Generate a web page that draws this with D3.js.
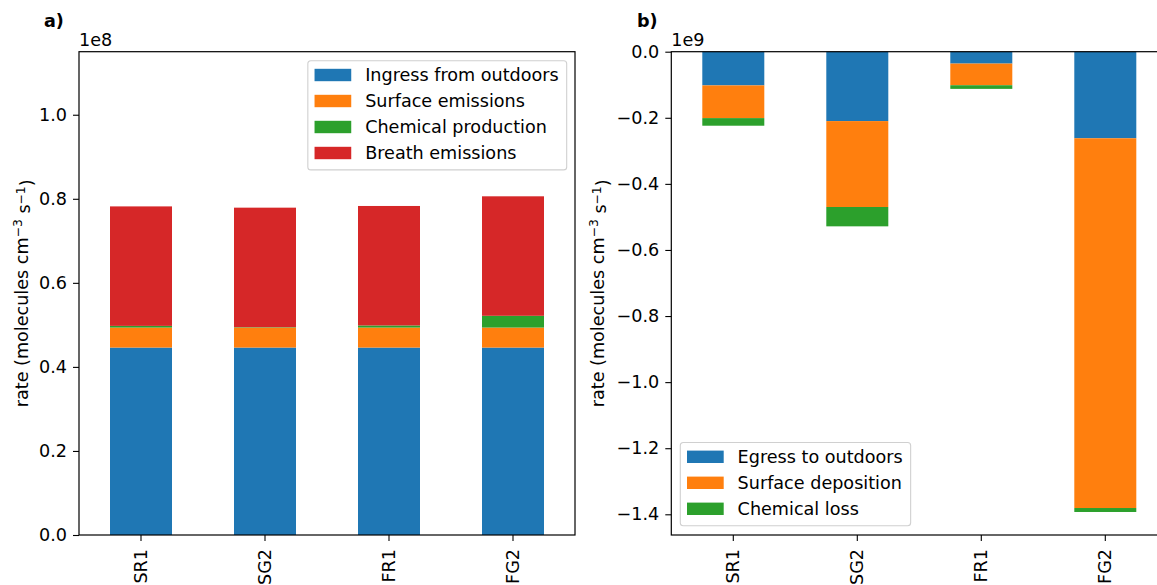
<!DOCTYPE html>
<html>
<head>
<meta charset="utf-8">
<script src="https://cdn.jsdelivr.net/npm/d3@7"></script>
<style>
  body { margin: 0; background: #fff; }
  svg text { font-family: "DejaVu Sans", "Liberation Sans", sans-serif; fill: #000; }
</style>
</head>
<body>
<svg id="chart" width="1157" height="585"></svg>
<script>
// Scenarios (x categories)
const categories = ["SR1", "SG2", "FR1", "FG2"];

// Sources (molecules cm^-3 s^-1)
const ingressFromOutdoors = [4.46e7, 4.46e7, 4.46e7, 4.46e7];
const surfaceEmissions    = [4.76e6, 4.76e6, 4.76e6, 4.76e6];
const chemicalProduction  = [4.0e5, 1.0e5, 5.0e5, 2.8e6];
const breathEmissions     = [2.843e7, 2.843e7, 2.843e7, 2.843e7];

// Sinks (molecules cm^-3 s^-1, negative)
const egressToOutdoors  = [-1.02e8, -2.10e8, -3.6e7, -2.62e8];
const surfaceDeposition = [-9.9e7, -2.60e8, -6.55e7, -1.119e9];
const chemicalLoss      = [-2.3e7, -5.85e7, -1.1e7, -1.2e7];

// Series names and tick values
const sourceNames = ["Ingress from outdoors", "Surface emissions", "Chemical production", "Breath emissions"];
const sinkNames   = ["Egress to outdoors", "Surface deposition", "Chemical loss"];
const sourceTicks = [0, 0.2e8, 0.4e8, 0.6e8, 0.8e8, 1.0e8];
const sinkTicks   = [0, -0.2e9, -0.4e9, -0.6e9, -0.8e9, -1.0e9, -1.2e9, -1.4e9];

const palette = ["#1f77b4", "#ff7f0e", "#2ca02c", "#d62728"];
const FONT = 17.6;
const svg = d3.select("#chart");

function drawPanel(cfg) {
  const { x0, x1, y0, y1, names, series, domain, ticks, scale, expLabel, letter, letterX, ylabelX, legendAt } = cfg;

  const rows = categories.map((c, i) => {
    const r = { cat: c };
    names.forEach((n, k) => r[n] = series[k][i]);
    return r;
  });
  const stacked = d3.stack().keys(names).offset(d3.stackOffsetDiverging)(rows);

  const x = d3.scaleBand().domain(categories).range([x0, x1]).paddingInner(0.5).paddingOuter(0.25);
  const y = d3.scaleLinear().domain(domain).range([y1, y0]);

  const g = svg.append("g");

  // stacked bars
  g.selectAll("g.layer").data(stacked).join("g")
    .attr("fill", (d, i) => palette[i])
    .selectAll("rect").data(d => d).join("rect")
    .attr("x", d => x(d.data.cat))
    .attr("width", x.bandwidth())
    .attr("y", d => y(Math.max(d[0], d[1])))
    .attr("height", d => Math.abs(y(d[0]) - y(d[1])));

  // y axis
  const fmt = v => {
    const s = (v / scale).toFixed(1);
    return s.replace("-", "\u2212");
  };
  const ya = g.append("g").attr("transform", `translate(${x0},0)`)
    .call(d3.axisLeft(y).tickValues(ticks).tickSize(6).tickPadding(6).tickFormat(fmt));
  ya.select(".domain").remove();
  ya.selectAll(".tick line").attr("stroke", "#000").attr("stroke-width", 1.1);
  ya.selectAll(".tick text").style("font-size", FONT + "px").attr("font-family", null);

  // x axis
  const xa = g.append("g").attr("transform", `translate(0,${y1})`)
    .call(d3.axisBottom(x).tickSize(6).tickPadding(6));
  xa.select(".domain").remove();
  xa.selectAll(".tick line").attr("stroke", "#000").attr("stroke-width", 1.1);
  xa.selectAll(".tick text")
    .style("font-size", FONT + "px")
    .attr("font-family", null)
    .attr("transform", "rotate(-90)")
    .attr("x", -14).attr("y", 0).attr("dy", "0.35em")
    .attr("text-anchor", "end");

  // spines
  g.append("rect")
    .attr("x", x0).attr("y", y0).attr("width", x1 - x0).attr("height", y1 - y0)
    .attr("fill", "none").attr("stroke", "#000").attr("stroke-width", 1.2);

  // offset label (exponent)
  g.append("text").attr("x", x0).attr("y", y0 - 5.5)
    .style("font-size", FONT + "px").text(expLabel);

  // panel letter
  g.append("text").attr("x", letterX).attr("y", 27)
    .style("font-size", FONT + "px").style("font-weight", "bold").text(letter);

  // y label with superscripts
  const yl = g.append("text")
    .attr("transform", `translate(${ylabelX},${(y0 + y1) / 2}) rotate(-90)`)
    .attr("text-anchor", "middle")
    .style("font-size", FONT + "px");
  yl.append("tspan").text("rate (molecules cm");
  yl.append("tspan").attr("dy", "-0.45em").style("font-size", (FONT * 0.7) + "px").text("\u22123");
  yl.append("tspan").attr("dy", "0.45em").text(" s");
  yl.append("tspan").attr("dy", "-0.45em").style("font-size", (FONT * 0.7) + "px").text("\u22121");
  yl.append("tspan").attr("dy", "0.45em").text(")");

  // legend
  const rowGap = 26, padTop = 14.3, padBottom = 16.9;
  const lh = padTop + (names.length - 1) * rowGap + padBottom;
  const lg = g.append("g");
  const box = lg.append("rect")
    .attr("rx", 3).attr("ry", 3)
    .attr("fill", "#fff").attr("fill-opacity", 0.8)
    .attr("stroke", "#d0d0d0").attr("stroke-width", 1.1);
  const items = lg.selectAll("g.item").data(names).join("g")
    .attr("transform", (d, i) => `translate(0,${padTop + i * rowGap})`);
  items.append("rect").attr("x", 6.7).attr("y", -6.2).attr("width", 36.7).attr("height", 12.4)
    .attr("fill", (d, i) => palette[i]);
  const labels = items.append("text").attr("x", 57.3).attr("dy", "0.36em")
    .style("font-size", FONT + "px").text(d => d);
  let tw = 0;
  labels.each(function () { tw = Math.max(tw, this.getComputedTextLength()); });
  const lw = 57.3 + tw + 8;
  box.attr("width", lw).attr("height", lh);
  let lx, ly;
  if (legendAt === "upper right") { lx = x1 - 8.3 - lw; ly = y0 + 9; }
  else { lx = x0 + 9; ly = y1 - 9.3 - lh; }
  lg.attr("transform", `translate(${lx},${ly})`);
}

// a) production terms
drawPanel({
  x0: 79, x1: 575, y0: 51.7, y1: 535,
  names: sourceNames,
  series: [ingressFromOutdoors, surfaceEmissions, chemicalProduction, breathEmissions],
  domain: [0, 1.15e8], ticks: sourceTicks, scale: 1e8,
  expLabel: "1e8", letter: "a)", letterX: 44, ylabelX: 28,
  legendAt: "upper right"
});

// b) loss terms: bottom gets a 5% margin below the deepest stack, top pinned at 0
const sinkTotals = categories.map((c, i) => egressToOutdoors[i] + surfaceDeposition[i] + chemicalLoss[i]);
const sinkMin = d3.min(sinkTotals);
drawPanel({
  x0: 671.3, x1: 1167.3, y0: 51.7, y1: 535,
  names: sinkNames,
  series: [egressToOutdoors, surfaceDeposition, chemicalLoss],
  domain: [sinkMin * 1.05, 0], ticks: sinkTicks, scale: 1e9,
  expLabel: "1e9", letter: "b)", letterX: 637, ylabelX: 604,
  legendAt: "lower left"
});
</script>
</body>
</html>
